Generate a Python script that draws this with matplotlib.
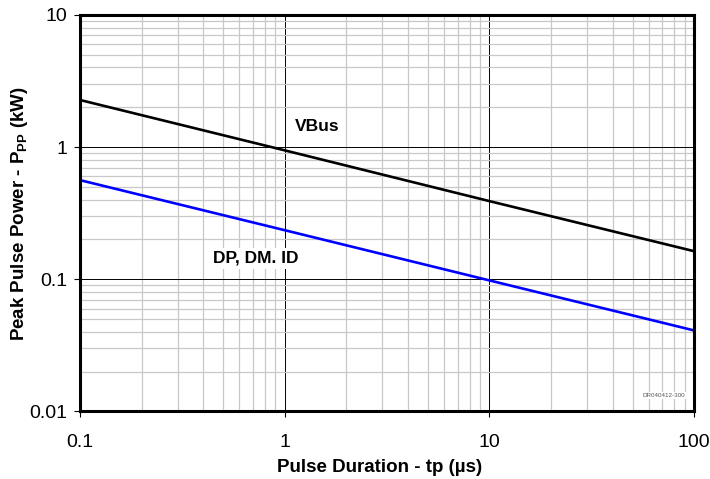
import numpy as np
import matplotlib.pyplot as plt
from matplotlib.ticker import LogLocator, FixedLocator, FixedFormatter

plt.rcParams['font.family'] = ['Liberation Sans', 'DejaVu Sans']
plt.rcParams['mathtext.fontset'] = 'custom'
plt.rcParams['mathtext.rm'] = 'Liberation Sans:bold'
plt.rcParams['mathtext.bf'] = 'Liberation Sans:bold'

# pulse duration (us) and peak pulse power (kW)
tp = [0.1, 1, 10, 100]
vbus = [2.27, 0.944, 0.39, 0.163]
dp_dm_id = [0.562, 0.235, 0.098, 0.041]

xticks = [0.1, 1, 10, 100]
xlabels = ['0.1', '1', '10', '100']
yticks = [0.01, 0.1, 1, 10]
ylabels = ['0.01', '0.1', '1', '10']

fig = plt.figure(figsize=(7.1, 4.79), dpi=100)
ax = fig.add_axes([0.1127, 0.141, 0.865, 0.828])

ax.plot(tp, vbus, color='black', lw=1.9, zorder=4)
ax.plot(tp, dp_dm_id, color='#0000ff', lw=1.9, zorder=4)

ax.set_xscale('log')
ax.set_yscale('log')
ax.set_xlim(0.1, 100)
ax.set_ylim(0.01, 10)

ax.xaxis.set_major_locator(FixedLocator(xticks))
ax.xaxis.set_major_formatter(FixedFormatter(xlabels))
ax.yaxis.set_major_locator(FixedLocator(yticks))
ax.yaxis.set_major_formatter(FixedFormatter(ylabels))
ax.xaxis.set_minor_locator(LogLocator(base=10, subs=np.arange(2, 10)))
ax.yaxis.set_minor_locator(LogLocator(base=10, subs=np.arange(2, 10)))

ax.grid(which='minor', color='#c8c8c8', lw=0.9, zorder=1)
ax.grid(which='major', color='black', lw=0.7, zorder=2)
ax.set_axisbelow(True)

ax.tick_params(which='major', direction='out', length=4, width=0.8, labelsize=14)
ax.tick_params(axis='x', which='major', pad=12)
ax.tick_params(axis='y', which='major', pad=5)
ax.tick_params(which='minor', length=0)
for s in ax.spines.values():
    s.set_linewidth(2.2)
    s.set_zorder(5)

ax.set_xlabel('Pulse Duration - tp (µs)', fontsize=13.5, fontweight='bold', va='top')
ax.set_ylabel(r'Peak Pulse Power - P$_{\mathbf{PP}}$ (kW)', fontsize=13.5,
              fontweight='bold')
ax.xaxis.set_label_coords(0.488, -0.12)
ax.yaxis.set_label_coords(-0.082, 0.5)

box = dict(facecolor='white', edgecolor='none', pad=2)
ax.text(1.12, 1.44, 'VBus', fontsize=12.5, fontweight='bold', va='center',
        bbox=box, zorder=3)
ax.text(0.445, 0.144, 'DP, DM. ID', fontsize=12.5, fontweight='bold', va='center',
        bbox=box, zorder=3)
ax.text(0.985, 0.04, 'DR040412-300', fontsize=4.5, color='#555555',
        transform=ax.transAxes, ha='right', va='center',
        bbox=dict(facecolor='white', edgecolor='none', pad=1), zorder=3)

fig.savefig('out.png', dpi=100)
